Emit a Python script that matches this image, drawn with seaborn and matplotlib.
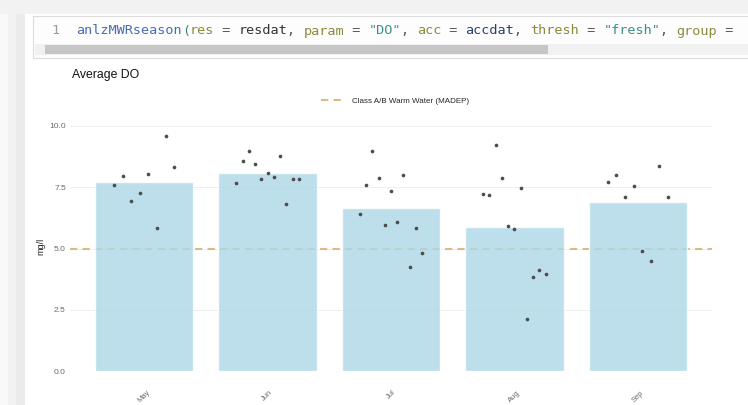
import numpy as np
import pandas as pd
import seaborn as sns
import matplotlib.pyplot as plt
from matplotlib.patches import Rectangle
from matplotlib.lines import Line2D

# valores (mg/l), um ponto por amostra
meses = ["May", "Jun", "Jul", "Aug", "Sep"]
do_may = [7.60, 7.97, 6.95, 7.28, 8.04, 5.82, 9.60, 8.33]
do_jun = [7.69, 8.58, 8.97, 8.45, 7.82, 8.10, 7.93, 8.79, 6.80, 7.82, 7.82]
do_jul = [6.41, 7.61, 9.00, 7.86, 5.94, 7.33, 6.08, 8.02, 4.23, 5.82, 4.83]
do_aug = [7.24, 7.20, 9.22, 7.86, 5.90, 5.80, 7.45, 2.14, 3.85, 4.12, 3.95]
do_sep = [7.73, 8.02, 7.10, 7.54, 4.91, 4.49, 8.38, 7.09]
limiar = 5.0
y_ticks = [0.0, 2.5, 5.0, 7.5, 10.0]

linhas = []
for i, (mes, vals) in enumerate(zip(meses, [do_may, do_jun, do_jul, do_aug, do_sep])):
    n = len(vals)
    for j, v in enumerate(vals):
        # deslocamento tipo position_dodge dentro de cada mes
        desloc = -0.278 + 0.556 * (j + 0.5) / n
        linhas.append({"mes": mes, "valor": v, "xpos": i + desloc})
dados = pd.DataFrame(linhas)

sns.set_theme(style="white")
plt.rcParams["font.family"] = ["Liberation Sans", "DejaVu Sans"]

W, H = 748, 405
fig = plt.figure(figsize=(W / 100, H / 100), dpi=100)

# moldura do print (bloco de codigo do Rmarkdown)
def ret(x0, y0, x1, y1, **kw):
    fig.patches.append(Rectangle((x0 / W, 1 - y1 / H), (x1 - x0) / W, (y1 - y0) / H,
                                 transform=fig.transFigure, figure=fig, **kw))

ret(0, 0, W, 14, facecolor="#f2f2f2", edgecolor="none")
ret(0, 14, 8, H, facecolor="#f9f9f9", edgecolor="none")
ret(8, 14, 16, H, facecolor="#f2f2f2", edgecolor="none")
ret(16, 14, 25, H, facecolor="#ebebeb", edgecolor="none")
ret(33, 16, W + 2, 58, facecolor="#fdfdfd", edgecolor="#dcdcdc", linewidth=0.8)
ret(35, 44, W, 55, facecolor="#f1f1f1", edgecolor="none")
ret(45, 45, 548, 54, facecolor="#c6c6c6", edgecolor="none")

segmentos = [
    ("1 ", "#9a9a9a"), (" ", "#333333"),
    ("anlzMWRseason", "#4a6cb3"), ("(", "#3a8a7a"),
    ("res", "#8a8a3a"), (" = ", "#555555"), ("resdat", "#333333"), (", ", "#555555"),
    ("param", "#8a8a3a"), (" = ", "#555555"), ('"DO"', "#3a8f8a"), (", ", "#555555"),
    ("acc", "#8a8a3a"), (" = ", "#555555"), ("accdat", "#2d3e6e"), (", ", "#555555"),
    ("thresh", "#8a8a3a"), (" = ", "#555555"), ('"fresh"', "#3a8f8a"), (", ", "#555555"),
    ("group", "#8a8a3a"), (" =", "#555555"),
]
fs_cod = 9.7
cw = 0.602 * fs_cod * 100 / 72
xc = 52
for txt, cor in segmentos:
    fig.text(xc / W, 1 - 31 / H, txt, color=cor, fontsize=fs_cod,
             family="DejaVu Sans Mono", va="center", ha="left")
    xc += len(txt) * cw

# painel do grafico
ax = fig.add_axes([70 / W, 1 - 371 / H, (712 - 70) / W, (371 - 122) / H])
ax.axhline(limiar, color="#deb887", linestyle=(0, (3.5, 2.5)), linewidth=1.5, zorder=0.5)
sns.barplot(data=dados, x="mes", y="valor", order=meses, errorbar=None,
            color="#add8e6", saturation=1, alpha=0.8, width=0.8, ax=ax, zorder=1)
sns.scatterplot(data=dados, x="xpos", y="valor", color="#4d4d4d", s=7,
                linewidth=0, ax=ax, zorder=3, legend=False)

ax.set_xlim(-0.6, 4.6)
ax.set_ylim(0, (371 - 122) / 24.5)
ax.set_yticks(y_ticks)
ax.set_yticklabels([f"{t:.1f}" for t in y_ticks])
ax.set_xticks(range(len(meses)))
ax.set_xticklabels(meses, rotation=45, ha="center")
for t in y_ticks:
    ax.axhline(t, color="#ebebeb", linewidth=0.6, zorder=0.2)
for s in ax.spines.values():
    s.set_visible(False)
ax.tick_params(axis="y", length=0, labelsize=6, labelcolor="#6a6a6a", pad=3)
ax.tick_params(axis="x", length=0, labelsize=5.5, labelcolor="#6a6a6a", pad=13)
ax.set_xlabel("")
ax.set_ylabel("mg/l", fontsize=6.5, color="#222222", labelpad=3)
ax.grid(False)

fig.text(72 / W, 1 - 75 / H, "Average DO", fontsize=8.8, color="#111111", va="center")

leg_h = Line2D([], [], color="#deb887", linestyle=(0, (3.5, 2.5)), linewidth=1.5)
fig.legend([leg_h], ["Class A/B Warm Water (MADEP)"], loc="center",
           bbox_to_anchor=(395 / W, 1 - 101 / H), frameon=False, fontsize=5.8,
           handlelength=2.6, handletextpad=1.2)

fig.savefig("out.png", dpi=100)
